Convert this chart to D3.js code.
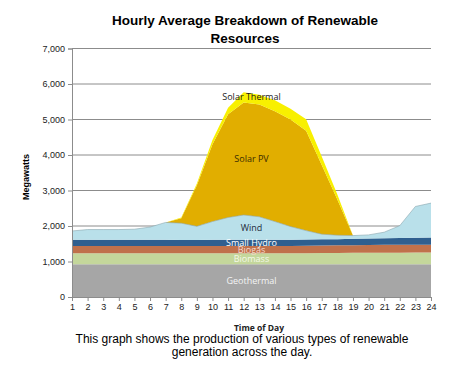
<!DOCTYPE html>
<html>
<head>
<meta charset="utf-8">
<script src="https://cdn.jsdelivr.net/npm/d3@7"></script>
<style>
  body { margin: 0; background: #fff; }
  svg { display: block; font-family: "Liberation Sans", Arial, sans-serif; }
</style>
</head>
<body>
<div id="chart"></div>
<script>
// hours of the day
const hours = d3.range(1, 25);
const yTicks = [0, 1000, 2000, 3000, 4000, 5000, 6000, 7000];

// series values (MW)
const geothermal = [920,920,920,920,920,920,920,920,920,920,920,920,920,920,920,920,920,920,920,920,920,920,920,920];
const biomass    = [310,310,310,310,310,310,310,310,310,310,310,310,310,310,310,315,320,320,325,325,330,330,335,335];
const biogas     = [210,210,210,210,210,210,210,205,205,205,205,205,205,210,210,210,210,215,215,220,220,220,220,220];
const smallHydro = [170,170,170,170,170,170,170,170,170,175,175,175,175,175,175,175,175,175,180,180,185,190,195,200];
const wind       = [250,290,290,290,300,360,490,475,385,515,630,700,650,510,370,250,145,110,90,105,170,350,880,970];
const solarPV    = [0,0,0,0,0,0,0,140,1160,2175,2910,3170,3160,3105,3015,2810,1950,1010,0,0,0,0,0,0];
const solarTherm = [0,0,0,0,0,0,0,20,50,120,180,290,280,310,300,330,240,140,0,0,0,0,0,0];

const seriesNames = ["Geothermal","Biomass","Biogas","Small Hydro","Wind","Solar PV","Solar Thermal"];
const seriesVals = [geothermal, biomass, biogas, smallHydro, wind, solarPV, solarTherm];
const colors = ["#a6a6a6","#c4d79b","#c0714b","#2f5f8f","#b9e0ea","#e1ae00","#f8f000"];
const labelColors = ["#f4f4f4","#f4f9e8","#f6d8cc","#ffffff","#1f2a3a","#3a2c00","#1a1a1a"];

const W = 453, H = 372;
const svg = d3.select("#chart").append("svg").attr("width", W).attr("height", H);

const table = hours.map((h, i) => {
    const row = {hour: h};
    seriesNames.forEach((s, k) => { row[s] = seriesVals[k][i]; });
    return row;
});
const stacked = d3.stack().keys(seriesNames)(table);

const x = d3.scaleLinear().domain([1, 24]).range([72, 431]);
const y = d3.scaleLinear().domain([0, 7000]).range([297, 48.5]);

// grid
svg.append("g")
   .selectAll("line")
   .data(yTicks.slice(1))
   .enter().append("line")
   .attr("x1", x(1)).attr("x2", x(24))
   .attr("y1", d => y(d)).attr("y2", d => y(d))
   .attr("stroke", "#8c8c8c").attr("stroke-width", 1);

// areas
const area = d3.area()
    .x(d => x(d.data.hour))
    .y0(d => y(d[0]))
    .y1(d => y(d[1]));

svg.append("g")
   .selectAll("path")
   .data(stacked)
   .enter().append("path")
   .attr("d", area)
   .attr("fill", (d, i) => colors[i]);

// thin top line on wind
svg.append("path")
   .datum(stacked[4])
   .attr("d", d3.line().x(d => x(d.data.hour)).y(d => y(d[1])))
   .attr("fill", "none")
   .attr("stroke", "#8aa6ae")
   .attr("stroke-width", 0.6);

// axes
const yAxis = svg.append("g")
   .attr("transform", "translate(" + x(1) + ",0)")
   .call(d3.axisLeft(y).tickValues(yTicks).tickFormat(d3.format(",")).tickSize(4).tickPadding(3));
yAxis.select(".domain").attr("stroke", "#8c8c8c");
yAxis.selectAll(".tick line").attr("stroke", "#8c8c8c");
yAxis.selectAll("text").attr("font-size", "9px").attr("fill", "#222")
     .attr("font-family", "Liberation Sans, Arial, sans-serif");

const xAxis = svg.append("g")
   .attr("transform", "translate(0," + y(0) + ")")
   .call(d3.axisBottom(x).tickValues(hours).tickFormat(d3.format("d")).tickSize(4).tickPadding(3));
xAxis.select(".domain").attr("stroke", "#8c8c8c");
xAxis.selectAll(".tick line").attr("stroke", "#8c8c8c");
xAxis.selectAll("text").attr("font-size", "9px").attr("fill", "#222")
     .attr("font-family", "Liberation Sans, Arial, sans-serif");

// series labels in the middle of each layer
const labelHour = 12;
const li = hours.indexOf(labelHour);
svg.append("g")
   .selectAll("text")
   .data(stacked)
   .enter().append("text")
   .attr("x", x(12.5))
   .attr("y", d => y((d[li][0] + d[li][1]) / 2))
   .attr("dy", "0.35em")
   .attr("text-anchor", "middle")
   .attr("font-family", "Open Sans, Lato, sans-serif")
   .attr("font-size", "9px")
   .attr("fill", (d, i) => labelColors[i])
   .text(d => d.key);

// titles
svg.append("text")
   .attr("x", 245).attr("y", 25)
   .attr("text-anchor", "middle")
   .attr("font-weight", "bold").attr("font-size", "13.5px")
   .text("Hourly Average Breakdown of Renewable");
svg.append("text")
   .attr("x", 245).attr("y", 43)
   .attr("text-anchor", "middle")
   .attr("font-weight", "bold").attr("font-size", "13.5px")
   .text("Resources");

svg.append("text")
   .attr("transform", "translate(29,177) rotate(-90)")
   .attr("text-anchor", "middle")
   .attr("font-weight", "bold").attr("font-size", "9px")
   .text("Megawatts");

svg.append("text")
   .attr("x", 259).attr("y", 331)
   .attr("text-anchor", "middle")
   .attr("font-family", "Open Sans, Lato, sans-serif")
   .attr("font-weight", "bold").attr("font-size", "8.5px")
   .attr("fill", "#222")
   .text("Time of Day");

svg.append("text")
   .attr("x", 242).attr("y", 343)
   .attr("text-anchor", "middle")
   .attr("font-size", "12px")
   .text("This graph shows the production of various types of renewable");
svg.append("text")
   .attr("x", 242).attr("y", 356)
   .attr("text-anchor", "middle")
   .attr("font-size", "12px")
   .text("generation across the day.");
</script>
</body>
</html>
